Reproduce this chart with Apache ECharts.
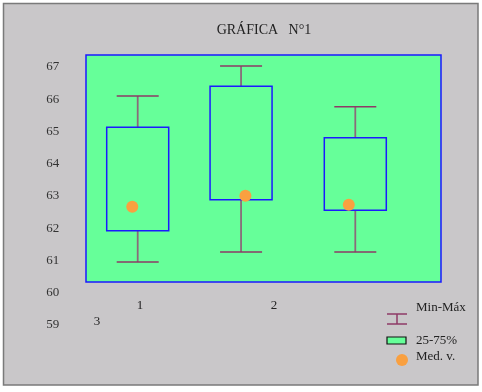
<!DOCTYPE html>
<html><head><meta charset="utf-8">
<script src="https://cdn.jsdelivr.net/npm/echarts@6/dist/echarts.min.js"></script>
<style>html,body{margin:0;padding:0;background:#fff;}#c{width:482px;height:392px;}</style>
</head><body><div id="c"></div>
<script>
const categories = ['1', '2', '3'];
const boxX = [1, 1.95, 3];
const medX = [0.95, 1.99, 2.94];
const minVals = [60.95, 61.26, 61.26];
const q1Vals = [61.92, 62.88, 62.56];
const medVals = [62.67, 63.01, 62.73];
const q3Vals = [65.13, 66.40, 64.81];
const maxVals = [66.10, 67.03, 65.77];
const yMin = 59, yMax = 67, yStep = 1;
const titleText = 'GRÁFICA   N°1';
const legendLabels = ['Min-Máx', '25-75%', 'Med. v.'];

const data = categories.map((c, i) => [boxX[i], minVals[i], q1Vals[i], medVals[i], q3Vals[i], maxVals[i], medX[i]]);
const serif = '"Liberation Serif", "DejaVu Serif", serif';
const whiskerColor = '#8e3a66';

const chart = echarts.init(document.getElementById('c'));
chart.setOption({
  animation: false,
  backgroundColor: '#ffffff',
  title: {
    text: titleText, left: 259, top: 18, textAlign: 'center',
    textStyle: { fontFamily: serif, fontSize: 14, fontWeight: 'normal', color: '#222' }
  },
  grid: [
    { left: 86, top: 55, width: 355, height: 227, show: true, backgroundColor: '#66ff99', borderColor: '#1a1aff', borderWidth: 1.5, z: 1 },
    { left: 83.3, top: 67, width: 326.4, height: 258, show: false }
  ],
  xAxis: [
    { gridIndex: 0, type: 'value', show: false },
    { gridIndex: 1, type: 'value', min: 0.5, max: 3.5, show: false }
  ],
  yAxis: [
    { gridIndex: 0, type: 'value', show: false },
    { gridIndex: 1, type: 'value', min: yMin, max: yMax, interval: yStep,
      axisLine: { show: false }, axisTick: { show: false }, splitLine: { show: false },
      axisLabel: { margin: 24, fontFamily: serif, fontSize: 13, color: '#333' } }
  ],
  graphic: [
    { type: 'rect', z: -10, shape: { x: 3.5, y: 3.5, width: 474.5, height: 381.5 },
      style: { fill: '#c9c7c9', stroke: '#7a7a7a', lineWidth: 1.5 } },
    { type: 'text', x: 140, y: 306, style: { text: categories[0], font: '13px ' + serif, fill: '#222', textAlign: 'center', textVerticalAlign: 'middle' } },
    { type: 'text', x: 274, y: 306, style: { text: categories[1], font: '13px ' + serif, fill: '#222', textAlign: 'center', textVerticalAlign: 'middle' } },
    { type: 'text', x: 97, y: 322, style: { text: categories[2], font: '13px ' + serif, fill: '#222', textAlign: 'center', textVerticalAlign: 'middle' } },
    // legend
    { type: 'line', shape: { x1: 387, y1: 314, x2: 407, y2: 314 }, style: { stroke: whiskerColor, lineWidth: 1.5 } },
    { type: 'line', shape: { x1: 397, y1: 314, x2: 397, y2: 324 }, style: { stroke: whiskerColor, lineWidth: 1.5 } },
    { type: 'line', shape: { x1: 387, y1: 324, x2: 407, y2: 324 }, style: { stroke: whiskerColor, lineWidth: 1.5 } },
    { type: 'rect', shape: { x: 387, y: 337, width: 19, height: 7 }, style: { fill: '#66ff99', stroke: '#111', lineWidth: 1.2 } },
    { type: 'circle', shape: { cx: 402, cy: 360, r: 6 }, style: { fill: '#f9a040' } },
    { type: 'text', x: 416, y: 308, style: { text: legendLabels[0], font: '13px ' + serif, fill: '#222', textVerticalAlign: 'middle' } },
    { type: 'text', x: 416, y: 341, style: { text: legendLabels[1], font: '13px ' + serif, fill: '#222', textVerticalAlign: 'middle' } },
    { type: 'text', x: 416, y: 357, style: { text: legendLabels[2], font: '13px ' + serif, fill: '#222', textVerticalAlign: 'middle' } }
  ],
  series: [{
    type: 'custom',
    xAxisIndex: 1, yAxisIndex: 1,
    z: 5,
    data: data,
    renderItem: function (params, api) {
      const x = api.value(0);
      const pMin = api.coord([x, api.value(1)]);
      const pQ1 = api.coord([x, api.value(2)]);
      const pMed = api.coord([api.value(6), api.value(3)]);
      const pQ3 = api.coord([x, api.value(4)]);
      const pMax = api.coord([x, api.value(5)]);
      const cx = pMin[0];
      const capHalf = 21, boxHalf = 31;
      const ls = { stroke: whiskerColor, lineWidth: 1.5 };
      const vs = { stroke: '#8a6a7a', lineWidth: 1.8 };
      return {
        type: 'group',
        children: [
          { type: 'line', shape: { x1: cx, y1: pMax[1], x2: cx, y2: pQ3[1] }, style: vs },
          { type: 'line', shape: { x1: cx, y1: pQ1[1], x2: cx, y2: pMin[1] }, style: vs },
          { type: 'line', shape: { x1: cx - capHalf, y1: pMax[1], x2: cx + capHalf, y2: pMax[1] }, style: ls },
          { type: 'line', shape: { x1: cx - capHalf, y1: pMin[1], x2: cx + capHalf, y2: pMin[1] }, style: ls },
          { type: 'rect', shape: { x: cx - boxHalf, y: pQ3[1], width: boxHalf * 2, height: pQ1[1] - pQ3[1] },
            style: { fill: 'none', stroke: '#1a1aff', lineWidth: 1.5 } },
          { type: 'circle', shape: { cx: pMed[0], cy: pMed[1], r: 6 }, style: { fill: '#f9a040' } }
        ]
      };
    }
  }]
});
</script></body></html>
